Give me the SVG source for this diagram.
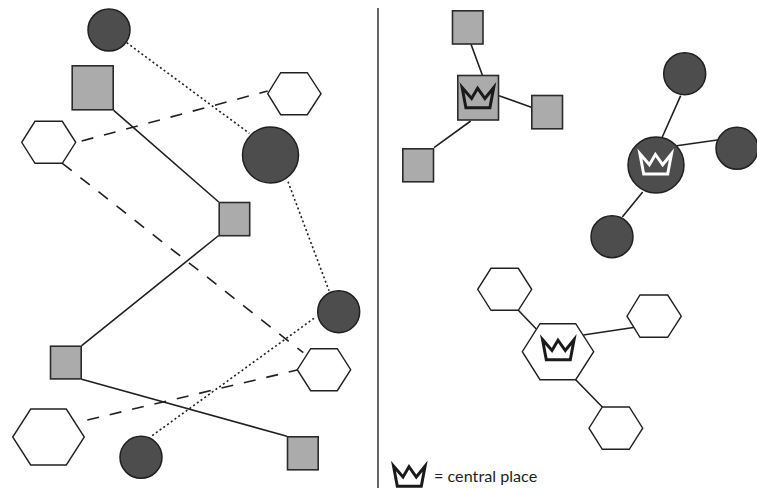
<svg xmlns="http://www.w3.org/2000/svg" width="757" height="488" viewBox="0 0 757 488">
<style>
.c{fill:#4d4d4d;stroke:#231f20;stroke-width:1.5}
.s{fill:#ababab;stroke:#2b2b2b;stroke-width:1.6}
.h{fill:#fff;stroke:#231f20;stroke-width:1.4}
.l{fill:none;stroke:#231f20;stroke-width:1.6}
.dash{stroke-dasharray:12 11}
.dot{stroke-dasharray:2 2.6;stroke-width:1.6}
.crown{fill:none;stroke-width:3;stroke-miterlimit:10}
</style>
<defs>
<path id="crown" d="M-15.8,-9.5L-6.3,1.5L-0.3,-8.8L7,1.5L15.8,-9.5L12,10.8H-12Z"/>
</defs>
<rect width="757" height="488" fill="#fff"/>
<g id="connectors">
<line x1="378" y1="8" x2="378" y2="488" stroke="#333" stroke-width="1.5"/>
<path class="l" d="M113.7,110.3L218.7,202M218.7,235.5L81.7,345.7M81.7,379.3L287,436.3"/>
<path class="l dot" d="M126.7,42.7L249.3,133.3M288,181.7L329,290.7M314,318.3L150.7,436.7"/>
<path class="l dash" d="M81.7,141L267.7,91M62.3,163.3L303.3,352.7M87.3,420L297.3,370"/>
<path class="l" d="M471,44.3L482.3,75M499,95.7L531.3,107.3M470.7,121L434,147.7"/>
<path class="l" d="M680.7,95.7L662.3,137M676.7,145.7L717.3,140M642.7,192L622.3,217"/>
<path class="l" d="M518.3,310.3L536.3,329M583.3,335L635,327.3M575.7,379.7L602.3,407"/>
</g>
<g id="circle-1"><circle class="c" cx="109" cy="30" r="21"/></g>
<g id="square-1"><rect class="s" x="72.2" y="65.8" width="41" height="44"/></g>
<g id="hex-1"><polygon class="h" points="280.7,72.7 307.3,72.7 321,93.7 307.3,114.7 280.7,114.7 267.7,93.7"/></g>
<g id="hex-2"><polygon class="h" points="35,121.3 62.3,121.3 75.7,142.3 62.3,163.3 35,163.3 21.7,142.3"/></g>
<g id="circle-2"><circle class="c" cx="270.5" cy="155" r="28"/></g>
<g id="square-2"><rect class="s" x="219.2" y="202.5" width="30.5" height="33.2"/></g>
<g id="circle-3"><circle class="c" cx="338.7" cy="311.7" r="21"/></g>
<g id="hex-3"><polygon class="h" points="310.7,348.7 337.3,348.7 350.7,369.7 337.3,390.7 310.7,390.7 297.3,369.7"/></g>
<g id="square-3"><rect class="s" x="50.5" y="346.2" width="30.7" height="32.7"/></g>
<g id="hex-4"><polygon class="h" points="30.7,409 66.3,409 84.3,437 66.3,465 30.7,465 12.7,437"/></g>
<g id="circle-4"><circle class="c" cx="141" cy="457.3" r="21"/></g>
<g id="square-4"><rect class="s" x="287.5" y="436.8" width="30.7" height="33"/></g>
<g id="square-5"><rect class="s" x="452.5" y="10.8" width="30.5" height="33.2"/></g>
<g id="square-central"><rect class="s" x="457.8" y="75.5" width="40.7" height="44.5"/><use href="#crown" class="crown" x="477.9" y="97" stroke="#1a1a1a"/></g>
<g id="square-6"><rect class="s" x="531.8" y="95.5" width="30.7" height="33.3"/></g>
<g id="square-7"><rect class="s" x="402.8" y="148.8" width="30.7" height="33"/></g>
<g id="circle-5"><circle class="c" cx="684.7" cy="73.7" r="21"/></g>
<g id="circle-central"><circle class="c" cx="656" cy="165" r="28"/><use href="#crown" class="crown" x="655.7" y="163.3" stroke="#fff"/></g>
<g id="circle-6"><circle class="c" cx="737" cy="148.3" r="21"/></g>
<g id="circle-7"><circle class="c" cx="612" cy="236.7" r="21"/></g>
<g id="hex-5"><polygon class="h" points="491,268.3 518.3,268.3 531.7,289.3 518.3,310.3 491,310.3 477.7,289.3"/></g>
<g id="hex-central"><polygon class="h" points="540,323.7 575.7,323.7 593.7,351.7 575.7,379.7 540,379.7 522.3,351.7"/><use href="#crown" class="crown" x="558.3" y="349" stroke="#1a1a1a"/></g>
<g id="hex-6"><polygon class="h" points="640,295 667.7,295 681.3,316.2 667.7,337.3 640,337.3 627,316.2"/></g>
<g id="hex-7"><polygon class="h" points="602.3,407 629.3,407 642.7,428.2 629.3,449.3 602.3,449.3 589,428.2"/></g>
<g id="legend"><use href="#crown" class="crown" x="409.3" y="475.5" stroke="#1a1a1a"/>
<text x="434" y="481.5" font-family="Lato, sans-serif" font-size="16.2" fill="#231f20">= central place</text></g>
</svg>
